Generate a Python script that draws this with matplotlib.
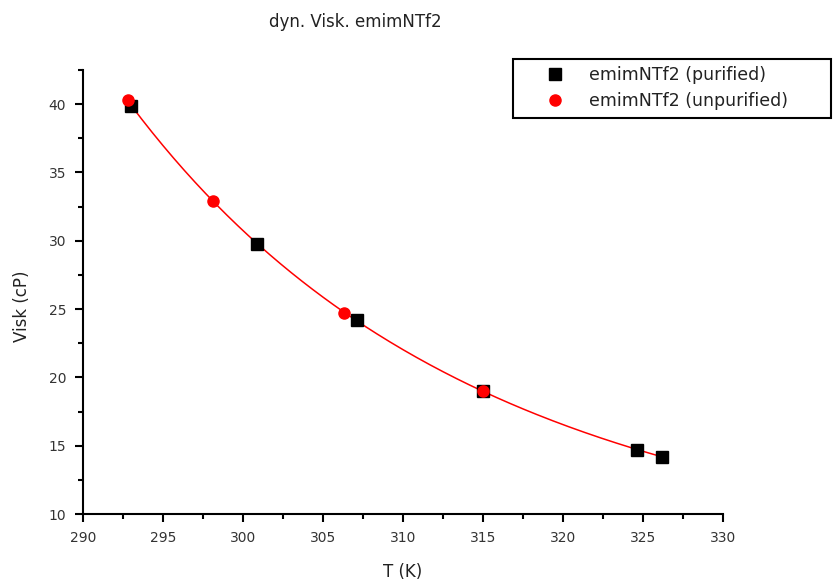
import numpy as np
import matplotlib.pyplot as plt
from matplotlib.ticker import MultipleLocator
from matplotlib.patches import Rectangle

plt.rcParams['font.family'] = ['DejaVu Sans']

# purified
T_pur = [293.0, 300.9, 307.1, 315.0, 324.6, 326.2]
visk_pur = [39.9, 29.8, 24.2, 19.0, 14.7, 14.2]
# unpurified
T_unp = [292.8, 298.1, 306.3, 315.0]
visk_unp = [40.3, 32.9, 24.7, 19.0]

# fit line (exp. decay through all points)
T_all = np.array(T_pur + T_unp)
v_all = np.array(visk_pur + visk_unp)
coef = np.polyfit(T_all, np.log(v_all), 2)
T_fit = np.linspace(293.0, 326.2, 200)
v_fit = np.exp(np.polyval(coef, T_fit))

fig = plt.figure(figsize=(8.33, 5.81), dpi=100)
ax = fig.add_axes([0.0996, 0.1153, 0.7683, 0.7642])

ax.plot(T_fit, v_fit, color='red', lw=1.1, zorder=2)
ax.plot(T_pur, visk_pur, 's', color='black', ms=8, label='emimNTf2 (purified)', zorder=3)
ax.plot(T_unp, visk_unp, 'o', color='red', ms=8, label='emimNTf2 (unpurified)', zorder=4)

ax.set_xlim(290, 330)
ax.set_ylim(10, 42.5)
ax.xaxis.set_major_locator(MultipleLocator(5))
ax.xaxis.set_minor_locator(MultipleLocator(2.5))
ax.yaxis.set_major_locator(MultipleLocator(5))
ax.yaxis.set_minor_locator(MultipleLocator(2.5))

for s in ['top', 'right']:
    ax.spines[s].set_visible(False)
for s in ['left', 'bottom']:
    ax.spines[s].set_linewidth(1.5)

ax.tick_params(which='major', direction='out', length=6, width=1.5, labelsize=10,
               labelcolor='#333333', pad=6)
ax.tick_params(which='minor', direction='out', length=3.6, width=1.5)

ax.set_xlabel('T (K)', fontsize=12, color='#222222')
ax.set_ylabel('Visk (cP)', fontsize=12, color='#222222')
ax.xaxis.set_label_coords(0.5, -0.13)
ax.xaxis.label.set_va('center')
ax.yaxis.set_label_coords(-0.095, 0.468)
ax.yaxis.label.set_va('center')

fig.text(355 / 833, 1 - 22 / 581, 'dyn. Visk. emimNTf2', ha='center', va='center',
         fontsize=12, color='#222222')

# legend (frame drawn separately, Origin style)
leg = fig.legend(loc='upper left', bbox_to_anchor=(538 / 833, 1 - 66 / 581), fontsize=12.5,
                 frameon=False, borderpad=0, borderaxespad=0,
                 handletextpad=0.95, labelspacing=0.46, handlelength=2.0)
for t in leg.get_texts():
    t.set_color('#222222')
fig.add_artist(Rectangle((513 / 833, 1 - 118 / 581), 318 / 833, 59 / 581,
                         transform=fig.transFigure, fill=False, lw=1.5, ec='black'))

fig.savefig('out.png', dpi=100)
